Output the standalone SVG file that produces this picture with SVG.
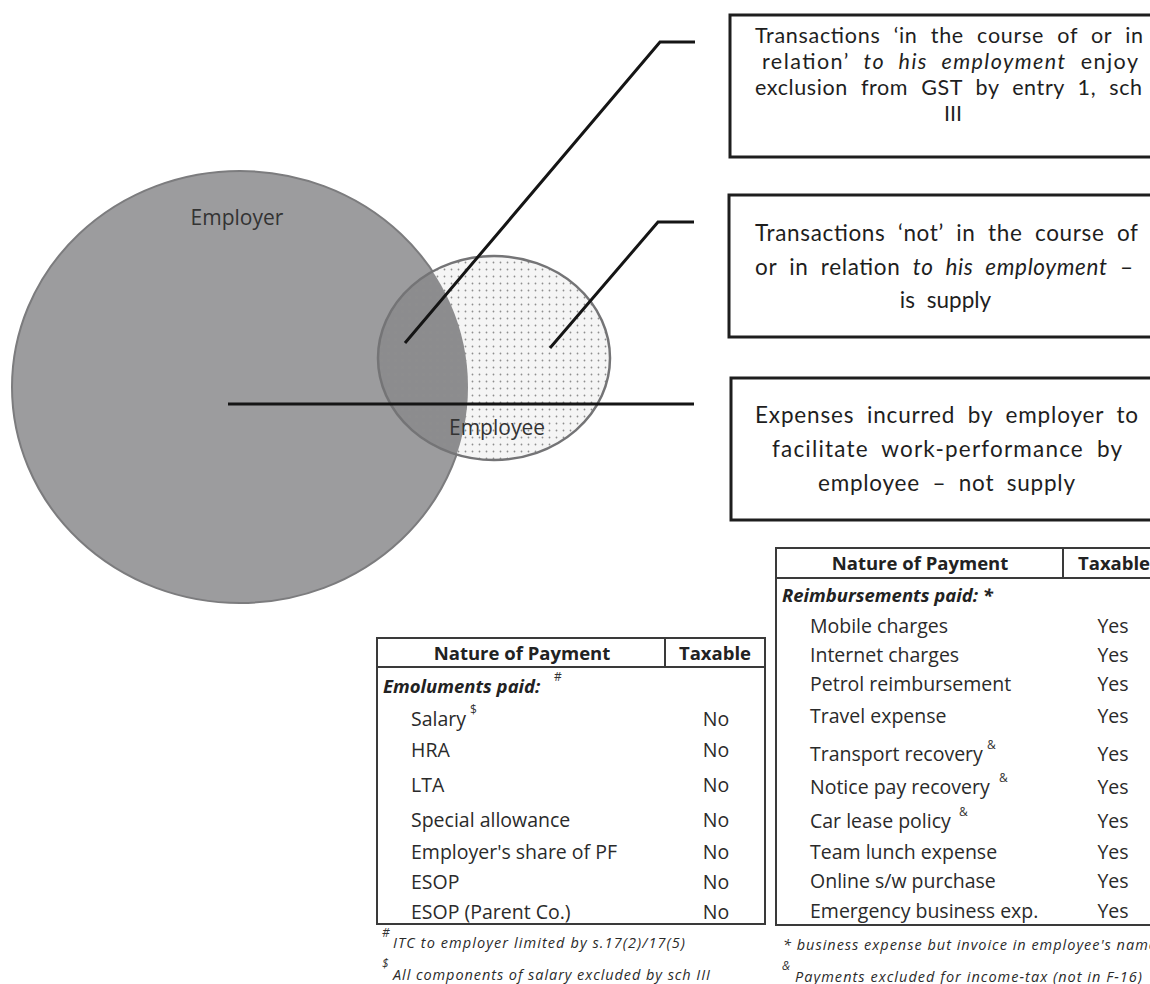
<svg xmlns="http://www.w3.org/2000/svg" width="1150" height="984" viewBox="0 0 1150 984">
<style>
.t{font-family:"Open Sans","Liberation Sans",sans-serif;fill:#222}
.b{font-family:Lato,"Open Sans",sans-serif;fill:#1e1e1e}
.box{fill:#fff;stroke:#1e1e1e;stroke-width:3}
.bx{font-size:21.5px;text-anchor:middle;word-spacing:7px}
.bx2{font-size:22.5px;text-anchor:middle;word-spacing:6px}
.it{font-style:italic}
.conn{fill:none;stroke:#151515;stroke-width:3;stroke-linejoin:miter}
.tbl{fill:#fff;stroke:#3a3a3a;stroke-width:2}
.tl{stroke:#3a3a3a;stroke-width:2}
.hd{font-size:18.5px;font-weight:bold;text-anchor:middle}
.sec{font-size:18.5px;font-weight:bold;font-style:italic}
.row{font-size:19.5px;fill:#2a2a2a}
.val{font-size:19.5px;fill:#2a2a2a;text-anchor:middle}
.sup{font-size:12px;fill:#333}
.fn{font-size:14.5px;font-style:italic;fill:#2a2a2a}
.lbl{font-size:21px;text-anchor:middle;fill:#333}
</style>
<defs>
<pattern id="dots" width="7" height="7" patternUnits="userSpaceOnUse">
<circle cx="3.5" cy="3.5" r="0.9" fill="#8e8e8e"/>
</pattern>
<clipPath id="empClip"><ellipse cx="240" cy="387" rx="228" ry="216"/></clipPath>
</defs>
<rect width="1150" height="984" fill="#fff"/>

<g id="node-employer">
<ellipse cx="240" cy="387" rx="228" ry="216" fill="#9c9c9e" stroke="#7c7c7e" stroke-width="2"/>
<text class="t lbl" x="237" y="225">Employer</text>
</g>

<g id="node-employee">
<ellipse cx="494" cy="358" rx="116" ry="102" fill="#f5f5f5"/>
<ellipse cx="494" cy="358" rx="116" ry="102" fill="#8c8c8e" clip-path="url(#empClip)"/>
<ellipse cx="494" cy="358" rx="116" ry="102" fill="url(#dots)" stroke="#747476" stroke-width="2.5"/>
<text class="t lbl" x="497" y="435">Employee</text>
</g>

<g id="connectors">
<polyline class="conn" points="405,343 660,42 695,42"/>
<polyline class="conn" points="550,348 658,222 694,222"/>
<polyline class="conn" points="228,404 694,404"/>
</g>

<g id="node-box1">
<rect class="box" x="730" y="15" width="460" height="142"/>
<text class="b bx" x="949" y="43" textLength="388" lengthAdjust="spacing">Transactions ‘in the course of or in</text>
<text class="b bx" x="950" y="69" textLength="376" lengthAdjust="spacing">relation’ <tspan class="it">to his employment</tspan> enjoy</text>
<text class="b bx" x="948.5" y="95" textLength="387" lengthAdjust="spacing">exclusion from GST by entry 1, sch</text>
<text class="b bx" x="953" y="121">III</text>
</g>

<g id="node-box2">
<rect class="box" x="729" y="195" width="460" height="142"/>
<text class="b bx2" x="946.5" y="241" textLength="383" lengthAdjust="spacing">Transactions ‘not’ in the course of</text>
<text class="b bx2" x="944" y="275" textLength="378" lengthAdjust="spacing">or in relation <tspan class="it">to his employment</tspan> –</text>
<text class="b bx2" x="945.5" y="308">is supply</text>
</g>

<g id="node-box3">
<rect class="box" x="731" y="378" width="460" height="142"/>
<text class="b bx2" x="946.5" y="423" textLength="383" lengthAdjust="spacing">Expenses incurred by employer to</text>
<text class="b bx2" x="947" y="457" textLength="350" lengthAdjust="spacing">facilitate work-performance  by</text>
<text class="b bx2" x="946.5" y="491" textLength="257" lengthAdjust="spacing">employee – not supply</text>
</g>

<g id="table-emoluments">
<rect class="tbl" x="377" y="638" width="388" height="286"/>
<line class="tl" x1="377" y1="667" x2="765" y2="667"/>
<line class="tl" x1="665" y1="638" x2="665" y2="667"/>
<text class="t hd" x="522" y="660">Nature of Payment</text>
<text class="t hd" x="715" y="660">Taxable</text>
<text class="t sec" x="383" y="693">Emoluments paid:</text>
<text class="t sup" x="554" y="681">#</text>
<text class="t row" x="411" y="726">Salary</text>
<text class="t sup" x="470" y="714">$</text>
<text class="t row" x="411" y="757">HRA</text>
<text class="t row" x="411" y="792">LTA</text>
<text class="t row" x="411" y="827">Special allowance</text>
<text class="t row" x="411" y="859">Employer's share of PF</text>
<text class="t row" x="411" y="889">ESOP</text>
<text class="t row" x="411" y="919">ESOP (Parent Co.)</text>
<text class="t val" x="716" y="726">No</text>
<text class="t val" x="716" y="757">No</text>
<text class="t val" x="716" y="792">No</text>
<text class="t val" x="716" y="827">No</text>
<text class="t val" x="716" y="859">No</text>
<text class="t val" x="716" y="889">No</text>
<text class="t val" x="716" y="919">No</text>
<text class="t sup" x="382" y="937" font-style="italic">#</text>
<text class="t fn" x="393" y="948" textLength="292" lengthAdjust="spacing">ITC to employer limited by s.17(2)/17(5)</text>
<text class="t sup" x="382" y="968" font-style="italic">$</text>
<text class="t fn" x="393" y="980" textLength="317" lengthAdjust="spacing">All components of salary excluded by sch III</text>
</g>

<g id="table-reimbursements">
<rect class="tbl" x="776" y="548" width="400" height="377"/>
<line class="tl" x1="776" y1="578" x2="1176" y2="578"/>
<line class="tl" x1="1063" y1="548" x2="1063" y2="578"/>
<text class="t hd" x="920" y="570">Nature of Payment</text>
<text class="t hd" x="1078" y="570" style="text-anchor:start">Taxable</text>
<text class="t sec" x="782" y="602">Reimbursements paid: *</text>
<text class="t row" x="810" y="633">Mobile charges</text>
<text class="t row" x="810" y="662">Internet charges</text>
<text class="t row" x="810" y="691">Petrol reimbursement</text>
<text class="t row" x="810" y="723">Travel expense</text>
<text class="t row" x="810" y="761">Transport recovery</text>
<text class="t sup" x="987" y="749">&amp;</text>
<text class="t row" x="810" y="794">Notice pay recovery</text>
<text class="t sup" x="999" y="782">&amp;</text>
<text class="t row" x="810" y="828">Car lease policy</text>
<text class="t sup" x="959" y="816">&amp;</text>
<text class="t row" x="810" y="859">Team lunch expense</text>
<text class="t row" x="810" y="888">Online s/w purchase</text>
<text class="t row" x="810" y="918">Emergency business exp.</text>
<text class="t val" x="1113" y="633">Yes</text>
<text class="t val" x="1113" y="662">Yes</text>
<text class="t val" x="1113" y="691">Yes</text>
<text class="t val" x="1113" y="723">Yes</text>
<text class="t val" x="1113" y="761">Yes</text>
<text class="t val" x="1113" y="794">Yes</text>
<text class="t val" x="1113" y="828">Yes</text>
<text class="t val" x="1113" y="859">Yes</text>
<text class="t val" x="1113" y="888">Yes</text>
<text class="t val" x="1113" y="918">Yes</text>
<text class="t fn" x="783" y="950" textLength="373" lengthAdjust="spacing">* business expense but invoice in employee's name</text>
<text class="t sup" x="782" y="970" font-style="italic">&amp;</text>
<text class="t fn" x="795" y="982" textLength="347" lengthAdjust="spacing">Payments excluded for income-tax (not in F-16)</text>
</g>
</svg>
